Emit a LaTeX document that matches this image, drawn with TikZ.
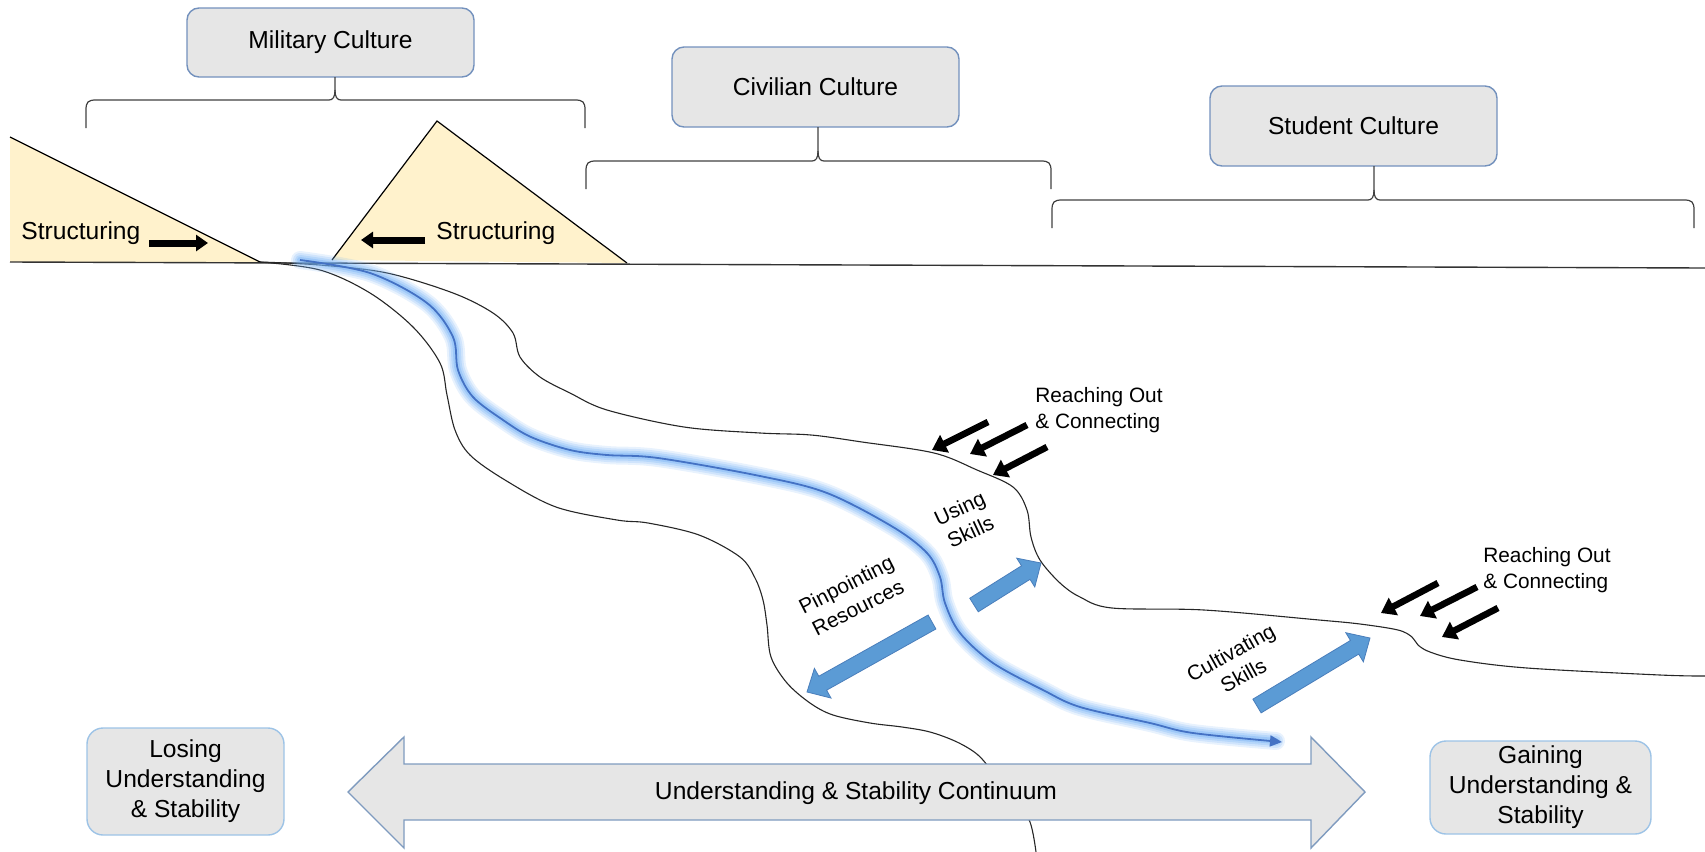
\documentclass[tikz,border=0pt]{standalone}
\usepackage{fontspec}
\setmainfont{Liberation Sans}
\usetikzlibrary{arrows.meta,calc}
\definecolor{boxfill}{HTML}{E6E6E6}
\definecolor{boxline}{HTML}{7391BD}
\definecolor{boxlinetwo}{HTML}{9DC3E6}
\definecolor{dblline}{HTML}{7F9BBF}
\definecolor{trifill}{HTML}{FFF2CC}
\definecolor{arrfill}{HTML}{5B9BD5}
\definecolor{arrline}{HTML}{4A7EBB}
\definecolor{river}{HTML}{4472C4}
\definecolor{glowc}{HTML}{6FAEF5}
\newcommand{\blockarrow}[2]{%
  \coordinate (#1-b) at ($(#2)!9pt!(#1)$);
  \draw[blockarr] ($(#1)!4pt!90:(#2)$) -- ($(#1-b)!4pt!90:(#2)$) -- ($(#1-b)!8.5pt!90:(#2)$) -- (#2)
    -- ($(#1-b)!8.5pt!-90:(#2)$) -- ($(#1-b)!4pt!-90:(#2)$) -- ($(#1)!4pt!-90:(#2)$) -- cycle;}
\newcommand{\culturebrace}[6]{% box, x1, xc, x2, ytop, ybox
  \draw[brace] (#2,#5+28) -- ++(0,-18) .. controls +(0,-8) and +(-8,0) .. ++(10,-10)
    -- (#3-6,#5) .. controls +(4,0) and +(0,7) .. (#3,#5-10) -- (#3,#6);
  \draw[brace] (#3,#5-10) .. controls +(0,7) and +(-4,0) .. (#3+6,#5)
    -- (#4-10,#5) .. controls +(8,0) and +(0,-8) .. (#4,#5+10) -- (#4,#5+28);}
\begin{document}
\begin{tikzpicture}[x=0.5pt,y=-0.5pt,
  every node/.style={font=\fontsize{12.3}{15}\selectfont, text=black, inner sep=0pt},
  culture/.style={draw=boxline, fill=boxfill, rounded corners=6pt, line width=0.7pt, minimum width=143.5pt},
  outcome/.style={draw=boxlinetwo, fill=boxfill, rounded corners=8pt, line width=0.7pt, align=center},
  brace/.style={draw=black!75, line width=0.6pt},
  bank/.style={draw=black!85, line width=0.55pt},
  small/.style={font=\fontsize{10.4}{13}\selectfont},
  blackarr/.style={line width=3.3pt, -{Triangle[width=9.5pt,length=7pt]}},
  structarr/.style={line width=3.5pt, -{Triangle[width=8pt,length=6pt]}},
  blockarr/.style={fill=arrfill, draw=arrline, line width=0.4pt},
  dblarr/.style={fill=boxfill, draw=dblline, line width=0.7pt}]
\useasboundingbox (0,0) rectangle (1705,852);

% triangles
\fill[trifill] (10,137) -- (260,262) -- (10,262) -- cycle;
\draw[line width=0.6pt] (10,137) -- (260,262);
\filldraw[fill=trifill, draw=black, line width=0.6pt] (332,260) -- (437,121) -- (627,263);
% ground
\draw[draw=black!80, line width=0.7pt] (10,262) -- (1705,268);

% culture boxes and braces
\node[culture, minimum height=34.5pt] (mil) at (330.5,42.5) {Military Culture};
\node[culture, minimum height=40pt] (civ) at (815.5,87) {Civilian Culture};
\node[culture, minimum height=40pt] (stu) at (1353.5,126) {Student Culture};
\culturebrace{mil}{86}{335}{585}{100}{77}
\culturebrace{civ}{586}{818}{1051}{161}{127}
\culturebrace{stu}{1052}{1374}{1694}{200}{166}

% structuring
\node[anchor=base west] (s1) at (21,239) {Structuring};
\node[anchor=base west] (s2) at (436,239) {Structuring};
\coordinate (sa1t) at (149,243); \coordinate (sa1h) at (208,243);
\coordinate (sa2t) at (425,240); \coordinate (sa2h) at (361,240);
\draw[structarr] (sa1t) -- (sa1h);
\draw[structarr] (sa2t) -- (sa2h);

% banks
\draw[bank] plot[smooth, tension=0.55] coordinates {(260,262) (320,265) (387,273) (453,293) (493,313) (513,333) (520,357) (540,377) (570,393) (607,410) (684,427) (760,433) (811,435) (862,442) (934,453) (977,470) (1013,487) (1027,510) (1031,537) (1040,560) (1060,583) (1080,597) (1112,608) (1204,610) (1319,620) (1360,624) (1398,630) (1412,637) (1418,645) (1430,652) (1460,660) (1527,668) (1660,675) (1705,676)};
\draw[bank] plot[smooth, tension=0.55] coordinates {(260,262) (320,270) (370,293) (413,327) (440,363) (447,395) (455,430) (470,455) (505,480) (556,507) (617,520) (648,523) (699,535) (740,557) (755,578) (763,600) (767,625) (771,657) (787,683) (810,703) (833,715) (870,723) (902,727) (930,732) (957,742) (978,755) (995,775) (1015,800) (1030,822) (1036,852)};

% river glow
\foreach \w/\o in {9pt/0.16, 7pt/0.2, 5pt/0.25, 3pt/0.35}{
\draw[glowc, line width=\w, opacity=\o, line cap=round, line join=round] plot[smooth, tension=0.55] coordinates {(300,260) (370,273) (427,303) (453,337) (458,370) (473,397) (503,420) (531,437) (570,450) (607,455) (658,458) (760,476) (827,493) (893,527) (927,553) (940,577) (945,603) (960,633) (993,663) (1043,690) (1080,707) (1150,723) (1193,733) (1276,741)};
}
\draw[river, line width=0.9pt, -{Triangle[width=5.5pt,length=6pt]}] plot[smooth, tension=0.55] coordinates {(300,260) (370,273) (427,303) (453,337) (458,370) (473,397) (503,420) (531,437) (570,450) (607,455) (658,458) (760,476) (827,493) (893,527) (927,553) (940,577) (945,603) (960,633) (993,663) (1043,690) (1080,707) (1150,723) (1193,733) (1282,742)};

% blue block arrows
\coordinate (ua) at (974,605); \coordinate (ub) at (1041,563);
\coordinate (pa) at (932,622); \coordinate (pb) at (807,692);
\coordinate (ca) at (1257,706); \coordinate (cb) at (1370,638);
\blockarrow{ua}{ub}
\blockarrow{pa}{pb}
\blockarrow{ca}{cb}

% rotated labels
\node[small, rotate=25, align=center] (using) at (965,520) {Using\\Skills};
\node[small, rotate=27, align=center] (pinp) at (852,596) {Pinpointing\\Resources};
\node[small, rotate=29, align=center] (cult) at (1237,664) {Cultivating\\Skills};

% reaching out 1
\node[small, align=left, anchor=west] (reach1) at (1035,410.5) {Reaching Out\\\& Connecting};
\coordinate (r1t) at (988,422); \coordinate (r1h) at (932,450);
\coordinate (r2t) at (1027,425); \coordinate (r2h) at (970,454);
\coordinate (r3t) at (1047,447); \coordinate (r3h) at (993,475);
\draw[blackarr] (r1t) -- (r1h);
\draw[blackarr] (r2t) -- (r2h);
\draw[blackarr] (r3t) -- (r3h);
% reaching out 2
\node[small, align=left, anchor=west] (reach2) at (1483,570.5) {Reaching Out\\\& Connecting};
\coordinate (q1t) at (1438,583); \coordinate (q1h) at (1381,613);
\coordinate (q2t) at (1477,587); \coordinate (q2h) at (1420,616);
\coordinate (q3t) at (1498,608); \coordinate (q3h) at (1442,637);
\draw[blackarr] (q1t) -- (q1h);
\draw[blackarr] (q2t) -- (q2h);
\draw[blackarr] (q3t) -- (q3h);

% continuum
\draw[dblarr] (348,792) -- (404,737) -- (404,764) -- (1311,764) -- (1311,737) -- (1365,792)
  -- (1311,848) -- (1311,820) -- (404,820) -- (404,848) -- cycle;
\node (cont) at (856,793) {Understanding \& Stability Continuum};

\node[outcome, minimum width=98.5pt, minimum height=53.5pt] (lose) at (185.5,781.5) {Losing\\Understanding\\\& Stability};
\node[outcome, minimum width=110.5pt, minimum height=46.5pt] (gain) at (1540.5,787.5) {Gaining\\Understanding \&\\Stability};
\end{tikzpicture}
\end{document}
